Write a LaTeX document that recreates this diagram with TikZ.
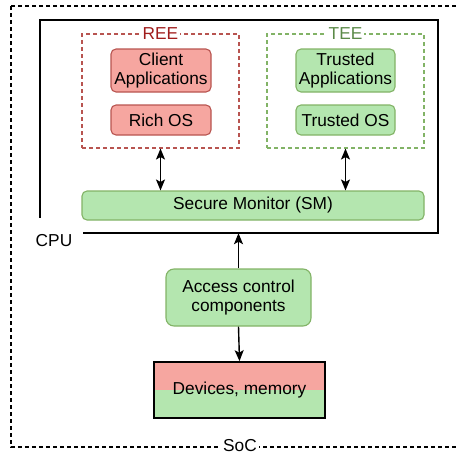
\documentclass[tikz,border=0pt]{standalone}
\usepackage{fontspec}
\setmainfont{Liberation Sans}
\usetikzlibrary{arrows.meta}
\definecolor{reefill}{HTML}{F6A6A0}
\definecolor{reeline}{HTML}{B85450}
\definecolor{reetext}{HTML}{A01C1C}
\definecolor{teefill}{HTML}{B4E6AF}
\definecolor{teeline}{HTML}{82B366}
\definecolor{teetext}{HTML}{5B8A48}
\begin{document}
\begin{tikzpicture}[x=1pt,y=-1pt,
    every node/.style={font=\fontsize{17.3}{19.5}\selectfont},
    box/.style={draw,rounded corners=5pt,line width=1.1pt,align=center,inner sep=0pt},
    redbox/.style={box,draw=reeline,fill=reefill},
    greenbox/.style={box,draw=teeline,fill=teefill},
    zone/.style={draw,dash pattern=on 4pt off 3pt,line width=1.1pt,minimum width=157,minimum height=114},
    tag/.style={fill=white,inner xsep=2pt,inner ysep=0.5pt},
    tip/.tip={Stealth[length=11pt,width=9pt,inset=2.5pt]},
    link/.style={line width=1.4pt}]
    \useasboundingbox (0,0) rectangle (458,455);
    % SoC
    \draw[dash pattern=on 4pt off 3pt,line width=1.1pt] (11,6) rectangle (475,447);
    \node[tag] (soc) at (240,446) {SoC};
    % CPU
    \node[minimum width=398,minimum height=213,inner sep=0pt] (cpu) at (239,126.5) {};
    \draw[line width=1.6pt] (83,233) -- (438,233) -- (438,20) -- (40,20) -- (40,218);
    \node (cpulabel) at (54,241) {CPU};
    % REE and TEE
    \node[zone,draw=reeline] (ree) at (160.5,91) {};
    \node[tag,text=reetext] (reelabel) at (ree.north) {REE};
    \node[zone,draw=teeline] (tee) at (345.5,91) {};
    \node[tag,text=teetext] (teelabel) at (tee.north) {TEE};
    \node[redbox,minimum width=100,minimum height=43] (ca) at (161,70.5) {Client\\Applications};
    \node[redbox,minimum width=100,minimum height=30] (ros) at (161,120) {Rich OS};
    \node[greenbox,minimum width=99,minimum height=43] (ta) at (345.5,70.5) {Trusted\\Applications};
    \node[greenbox,minimum width=99,minimum height=30] (tos) at (345.5,120) {Trusted OS};
    \node[greenbox,minimum width=342,minimum height=29] (sm) at (253,205.5) {Secure Monitor (SM)};
    % access control and devices
    \node[greenbox,rounded corners=8pt,minimum width=145,minimum height=57] (acc) at (238.5,297.5) {Access control\\components};
    \node[draw,line width=1.7pt,minimum width=171,minimum height=56,inner sep=0pt,
        path picture={
            \fill[reefill] (path picture bounding box.north west) rectangle (path picture bounding box.east);
            \fill[teefill] (path picture bounding box.west) rectangle (path picture bounding box.south east);
        }] (dev) at (239.5,390) {Devices, memory};
    % links
    \draw[link,tip-tip] (ree.south) -- (ree.south |- sm.north);
    \draw[link,tip-tip] (tee.south) -- (tee.south |- sm.north);
    \draw[link,-tip] (acc.north) -- (acc.north |- cpu.south);
    \draw[link,-tip] (acc.south) -- (dev.north);
\end{tikzpicture}
\end{document}
